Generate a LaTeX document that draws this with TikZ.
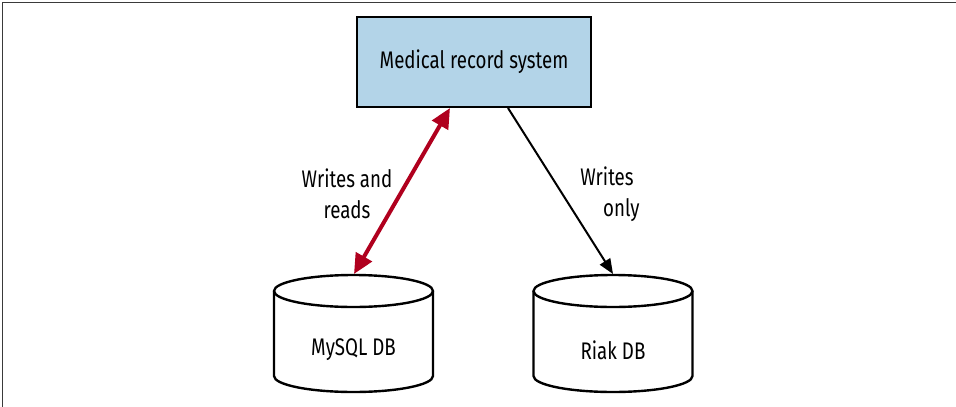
\documentclass[tikz,border=0pt]{standalone}
\usepackage{fontspec}
\setmainfont{Fira Sans}[FakeStretch=0.78]
\usetikzlibrary{arrows.meta}
\definecolor{boxblue}{HTML}{B3D4E8}
\definecolor{arrowred}{HTML}{B0001E}
\definecolor{framegray}{HTML}{3A3A3A}
\tikzset{
  sysbox/.style={draw=black, line width=2.5pt, fill=boxblue, minimum width=234pt, minimum height=90pt, inner sep=0pt},
  dbnode/.style={minimum width=159pt, minimum height=117pt, inner sep=0pt},
  cyl/.style={draw=black, line width=2.4pt, line join=round},
  lbl/.style={font=\fontsize{24}{31}\selectfont, text=black},
  rwarrow/.style={draw=arrowred, line width=4pt, {Triangle[length=20pt,width=18pt]}-{Triangle[length=20pt,width=18pt]}},
  warrow/.style={draw=black, line width=2pt, -{Triangle[length=15pt,width=12pt]}},
}
\begin{document}
\begin{tikzpicture}[x=1pt,y=-1pt]
\useasboundingbox (0,0) rectangle (956,407);
% frame
\draw[framegray, line width=1.6pt] (2.5,407) -- (2.5,2.5) -- (956,2.5);
% system box
\node[sysbox, lbl] (sys) at (474,62) {Medical record system};
% databases
\node[dbnode] (mysql) at (353.5,333.5) {};
\node[dbnode] (riak) at (613,333.5) {};
\draw[cyl] (274,291) -- (274,376) arc[start angle=180,end angle=360,x radius=79.5pt,y radius=16pt] -- (433,291);
\draw[cyl] (353.5,291) ellipse[x radius=79.5pt, y radius=16pt];
\draw[cyl] (533.5,291) -- (533.5,376) arc[start angle=180,end angle=360,x radius=79.5pt,y radius=16pt] -- (692.5,291);
\draw[cyl] (613,291) ellipse[x radius=79.5pt, y radius=16pt];
\node[lbl] (mysqllbl) at (353.5,350) {MySQL DB};
\node[lbl] (riaklbl) at (613,350) {Riak DB};
% attachment points
\coordinate (sysA) at (450,108);
\coordinate (sysB) at (508,108);
\coordinate (mysqltop) at (354,274);
\coordinate (riaktop) at (613,274);
% connectors
\draw[rwarrow] (mysqltop) -- (sysA);
\draw[warrow] (sysB) -- (riaktop);
% labels
\node[lbl, align=center] (rwlbl) at (347,194) {Writes and\\reads};
\node[lbl, align=center] (wlbl) at (607,194) {Writes\\\hspace*{1.2em}only};
\end{tikzpicture}
\end{document}
